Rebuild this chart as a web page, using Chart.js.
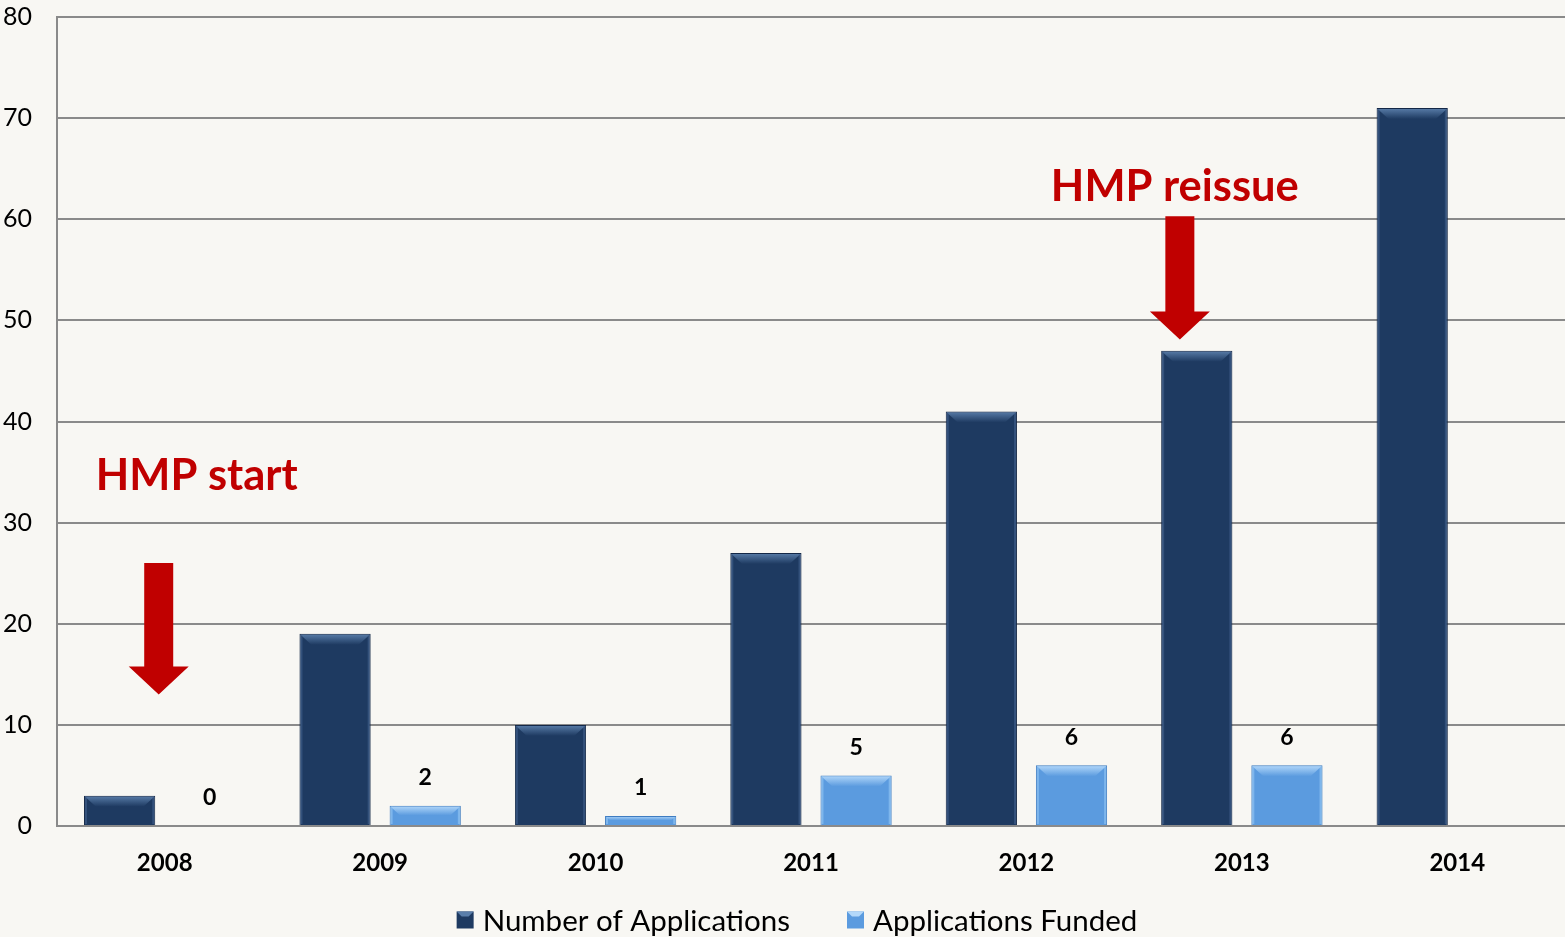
<!DOCTYPE html>
<html>
<head>
<meta charset="utf-8">
<script src="https://cdn.jsdelivr.net/npm/chart.js@4/dist/chart.umd.min.js"></script>
<style>
html, body { margin: 0; padding: 0; background: #f8f7f3; }
#wrap { width: 1565px; height: 937px; position: relative; }
</style>
</head>
<body>
<div id="wrap"><canvas id="chart"></canvas></div>
<script>
// data
const years = ['2008', '2009', '2010', '2011', '2012', '2013', '2014'];
const applications = [3, 19, 10, 27, 41, 47, 71];
const funded = [0, 2, 1, 5, 6, 6, null];
const seriesNames = ['Number of Applications', 'Applications Funded'];
const yMin = 0, yMax = 80, yStep = 10;

const darkBlue = '#1e3a61';
const lightBlue = '#5b9bdf';
const red = '#c00000';
const FONT = 'Lato, "Open Sans", sans-serif';

// top bevel on every bar, like the office 3d style
const bevelPlugin = {
    id: 'bevel',
    afterDatasetsDraw(chart) {
        const ctx = chart.ctx;
        chart.data.datasets.forEach((ds, i) => {
            const meta = chart.getDatasetMeta(i);
            meta.data.forEach((bar, j) => {
                if (ds.data[j] == null) return;
                const left = bar.x - bar.width / 2, right = bar.x + bar.width / 2;
                const top = bar.y, h = bar.base - bar.y;
                if (h < 2) return;
                const b = Math.min(11, h / 2);
                ctx.save();
                const g = ctx.createLinearGradient(0, top, 0, top + b);
                g.addColorStop(0, ds.bevelColor);
                g.addColorStop(1, ds.backgroundColor);
                ctx.fillStyle = g;
                ctx.beginPath();
                ctx.moveTo(left + 1, top + 1);
                ctx.lineTo(right - 1, top + 1);
                ctx.lineTo(right - 1 - b, top + b);
                ctx.lineTo(left + 1 + b, top + b);
                ctx.closePath();
                ctx.fill();
                // thin edges on the sides
                ctx.fillStyle = ds.edgeColor;
                ctx.fillRect(left + 1, top + 1, 2, h - 2);
                ctx.fillRect(right - 3, top + 1, 2, h - 2);
                ctx.restore();
            });
        });
    }
};

// value labels above the funded bars
const labelPlugin = {
    id: 'valueLabels',
    afterDatasetsDraw(chart) {
        const ctx = chart.ctx;
        const meta = chart.getDatasetMeta(1);
        ctx.save();
        ctx.font = 'bold 23px ' + FONT;
        ctx.fillStyle = '#000';
        ctx.textAlign = 'center';
        ctx.textBaseline = 'middle';
        meta.data.forEach((bar, j) => {
            const v = funded[j];
            if (v == null) return;
            ctx.fillText(String(v), bar.x, bar.y - 28);
        });
        ctx.restore();
    }
};

// the two red arrows and their notes
const notePlugin = {
    id: 'notes',
    afterDraw(chart) {
        const ctx = chart.ctx;
        const xs = chart.scales.x, ys = chart.scales.y;

        function arrow(cx, fromV, toV) {
            const y0 = ys.getPixelForValue(fromV);
            const tip = ys.getPixelForValue(toV);
            const headLen = 28, shaft = 14.5, head = 30;
            ctx.fillStyle = red;
            ctx.beginPath();
            ctx.moveTo(cx - shaft, y0);
            ctx.lineTo(cx + shaft, y0);
            ctx.lineTo(cx + shaft, tip - headLen);
            ctx.lineTo(cx + head, tip - headLen);
            ctx.lineTo(cx, tip);
            ctx.lineTo(cx - head, tip - headLen);
            ctx.lineTo(cx - shaft, tip - headLen);
            ctx.closePath();
            ctx.fill();
        }

        ctx.save();
        arrow(xs.getPixelForValue(0) - 6, 26, 13);
        arrow(xs.getPixelForValue(5) - 62, 60.3, 48.1);

        ctx.font = 'bold 43.5px ' + FONT;
        ctx.fillStyle = red;
        ctx.textAlign = 'center';
        ctx.textBaseline = 'middle';
        ctx.fillText('HMP start', xs.getPixelForValue(0) + 32, ys.getPixelForValue(34.6));
        ctx.fillText('HMP reissue', xs.getPixelForValue(5) - 67, ys.getPixelForValue(63.2));
        ctx.restore();
    }
};

// legend drawn under the axis
const legendPlugin = {
    id: 'bottomLegend',
    afterDraw(chart) {
        const ctx = chart.ctx;
        const box = 17, gapText = 9, gapItem = 57;
        ctx.save();
        ctx.font = '29.5px ' + FONT;
        ctx.textBaseline = 'middle';
        ctx.textAlign = 'left';
        const items = chart.data.datasets.map(ds => ({
            label: ds.label, color: ds.backgroundColor, bevel: ds.bevelColor,
            w: box + gapText + ctx.measureText(ds.label).width
        }));
        let total = items.reduce((a, it) => a + it.w, 0) + gapItem * (items.length - 1);
        let x = 797 - total / 2;
        const cy = 920;
        items.forEach(it => {
            ctx.fillStyle = it.color;
            ctx.fillRect(x, cy - box / 2, box, box);
            ctx.fillStyle = it.bevel;
            ctx.beginPath();
            ctx.moveTo(x, cy - box / 2);
            ctx.lineTo(x + box, cy - box / 2);
            ctx.lineTo(x + box - 5, cy - box / 2 + 5);
            ctx.lineTo(x + 5, cy - box / 2 + 5);
            ctx.closePath();
            ctx.fill();
            ctx.fillStyle = '#000';
            ctx.fillText(it.label, x + box + gapText, cy + 1);
            x += it.w + gapItem;
        });
        ctx.restore();
    }
};

const ctx = document.getElementById('chart').getContext('2d');
const chart = new Chart(ctx, {
    type: 'bar',
    data: {
        labels: years,
        datasets: [{
            label: seriesNames[0],
            data: applications,
            backgroundColor: darkBlue,
            borderColor: '#142847',
            borderWidth: 1,
            bevelColor: '#5a7eaa',
            edgeColor: 'rgba(70,100,145,0.55)',
            categoryPercentage: 0.837,
            barPercentage: 0.79
        }, {
            label: seriesNames[1],
            data: funded,
            backgroundColor: lightBlue,
            borderColor: '#3f7cc0',
            borderWidth: 1,
            bevelColor: '#b3d8fa',
            edgeColor: 'rgba(150,200,245,0.6)',
            categoryPercentage: 0.837,
            barPercentage: 0.79
        }]
    },
    options: {
        responsive: true,
        maintainAspectRatio: false,
        animation: false,
        layout: { padding: { top: 17, bottom: 47, left: 0, right: 0 } },
        plugins: {
            legend: { display: false },
            tooltip: { enabled: false }
        },
        scales: {
            x: {
                grid: { display: false },
                border: { display: false },
                ticks: {
                    color: '#000',
                    font: { family: FONT, size: 24, weight: 'bold' },
                    padding: 15
                },
                afterFit: function(scale) { scale.height = 64; }
            },
            y: {
                min: yMin,
                max: yMax,
                ticks: {
                    stepSize: yStep,
                    color: '#000',
                    font: { family: FONT, size: 25 },
                    padding: 25
                },
                grid: { color: '#8a8a8a', lineWidth: 2, drawTicks: false },
                border: { color: '#8a8a8a', width: 2 },
                afterFit: function(scale) {
                    scale.width = 57;
                    scale.paddingTop = 0;
                }
            }
        }
    },
    plugins: [bevelPlugin, labelPlugin, notePlugin, legendPlugin]
});
</script>
</body>
</html>
